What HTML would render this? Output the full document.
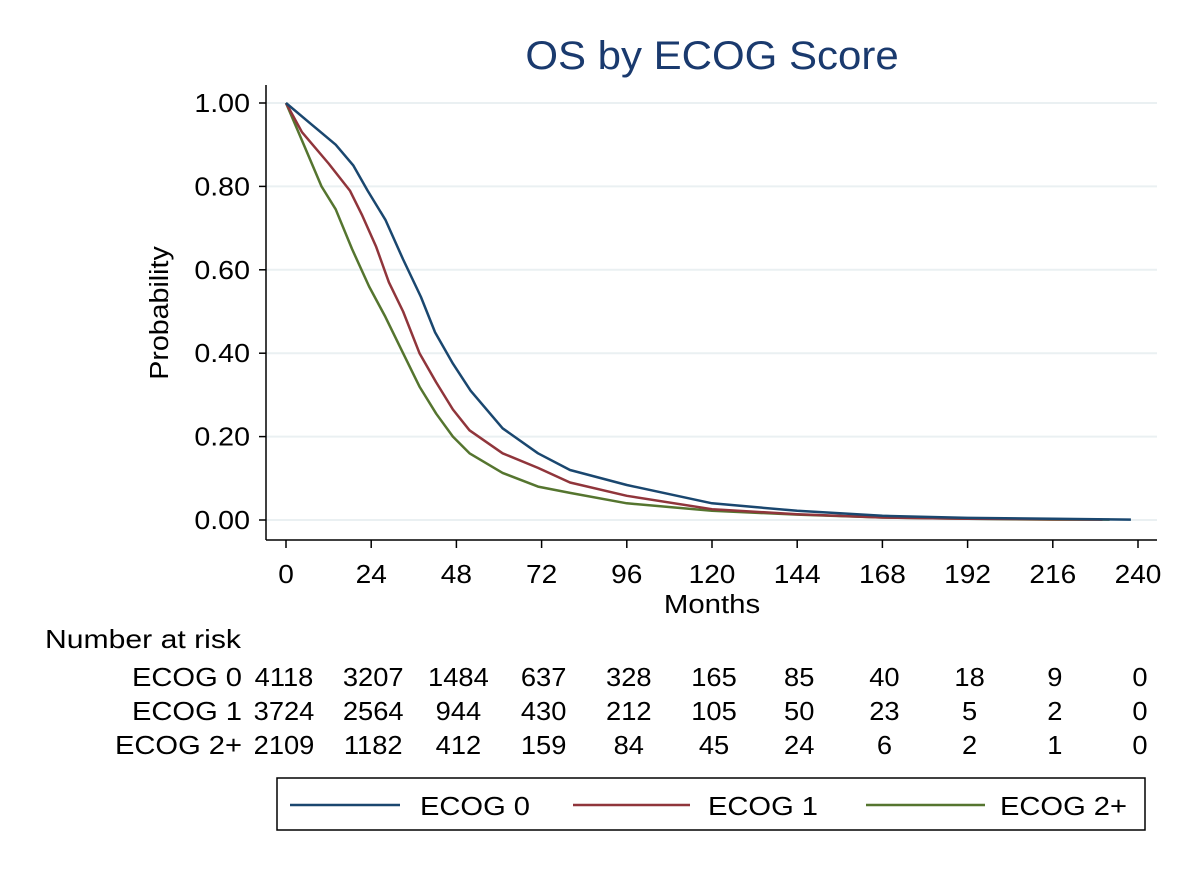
<!DOCTYPE html>
<html><head><meta charset="utf-8"><style>
html,body{margin:0;padding:0;background:#fff;}
svg text{font-family:"Liberation Sans",Arial,sans-serif;fill:#000;}
</style></head><body>
<svg id="chart" width="1200" height="873" viewBox="0 0 1200 873" xmlns="http://www.w3.org/2000/svg">
<rect width="1200" height="873" fill="#fff"/>
<text transform="translate(712,69) scale(1.05,1)" font-size="40" text-anchor="middle" style="fill:#1a3a6e">OS by ECOG Score</text>
<text transform="translate(168,313) rotate(-90) scale(1.1,1)" font-size="26" text-anchor="middle">Probability</text>
<text transform="translate(712,613) scale(1.13,1)" font-size="26" text-anchor="middle">Months</text>
<text transform="translate(45,648) scale(1.16,1)" font-size="26">Number at risk</text>
<g id="grid"></g><g id="axes"></g><g id="series"></g><g id="risk"></g>
<rect x="277" y="778" width="868" height="52" fill="none" stroke="#000" stroke-width="1.5"/>
<g>
<line x1="290" y1="805" x2="400" y2="805" stroke="#1a476f" stroke-width="2.5"/>
<text transform="translate(420,815) scale(1.12,1)" font-size="26">ECOG 0</text></g>
<g>
<line x1="573" y1="805" x2="690" y2="805" stroke="#90353b" stroke-width="2.5"/>
<text transform="translate(708,815) scale(1.12,1)" font-size="26">ECOG 1</text></g>
<g>
<line x1="866" y1="805" x2="985" y2="805" stroke="#55752f" stroke-width="2.5"/>
<text transform="translate(1000,815) scale(1.12,1)" font-size="26">ECOG 2+</text></g>
</svg>
<script>
const xTicks=[0,24,48,72,96,120,144,168,192,216,240];
const yTicks=[0,0.2,0.4,0.6,0.8,1.0];
const monthsA=[0,7,14,19,23,28,33,38,42,47,52,61,71,80,96,120,144,168,192,216,238];
const ecog0=[1,0.95,0.90,0.85,0.79,0.72,0.625,0.535,0.45,0.375,0.31,0.22,0.16,0.12,0.084,0.040,0.022,0.010,0.005,0.003,0.001];
const monthsB=[0,4.5,12,18,21.5,25.4,29,33,37.6,42.3,47,51.7,61,71,80,96,120,144,168,192,216,230];
const ecog1=[1,0.93,0.855,0.79,0.73,0.655,0.57,0.50,0.40,0.33,0.265,0.215,0.16,0.125,0.09,0.058,0.026,0.014,0.006,0.003,0.002,0.001];
const monthsC=[0,4.5,10,14,18.6,23.4,28,33,37.6,42.3,47,51.7,61,71,80,96,120,144,168,192,216,232];
const ecog2=[1,0.91,0.80,0.745,0.65,0.56,0.487,0.40,0.32,0.255,0.20,0.16,0.113,0.08,0.065,0.04,0.022,0.013,0.006,0.003,0.001,0.001];
const riskLabels=["ECOG 0","ECOG 1","ECOG 2+"];
const risk0=[4118,3207,1484,637,328,165,85,40,18,9,0];
const risk1=[3724,2564,944,430,212,105,50,23,5,2,0];
const risk2=[2109,1182,412,159,84,45,24,6,2,1,0];
const NS="http://www.w3.org/2000/svg";
const X=m=>286+m*(1138-286)/240;
const Y=p=>520-p*417;
function mk(tag,attrs,parent,txt){const e=document.createElementNS(NS,tag);for(const k in attrs)e.setAttribute(k,attrs[k]);if(txt!==undefined)e.textContent=txt;parent.appendChild(e);return e;}
function tr(x,y,s){return 'translate('+x+','+y+') scale('+s+',1)';}
const grid=document.getElementById('grid'),axes=document.getElementById('axes'),ser=document.getElementById('series'),risk=document.getElementById('risk');
yTicks.forEach(v=>{
  const g=mk('line',{x1:266,x2:1157,y1:Y(v),y2:Y(v),stroke:'#eaf0f2','stroke-width':2},grid);
  
  
  const t=mk('line',{x1:259,x2:266,y1:Y(v),y2:Y(v),stroke:'#000','stroke-width':1.5},axes);
  
  
  const l=mk('text',{transform:tr(250,Y(v)+9,1.1),'font-size':26,'text-anchor':'end'},axes,v.toFixed(2));
  
  
});
const ya=mk('line',{x1:266,x2:266,y1:85,y2:540,stroke:'#000','stroke-width':1.5},axes);


const xa=mk('line',{x1:266,x2:1157,y1:540,y2:540,stroke:'#000','stroke-width':1.5},axes);


xTicks.forEach(v=>{
  const t=mk('line',{x1:X(v),x2:X(v),y1:540,y2:548,stroke:'#000','stroke-width':1.5},axes);
  
  
  const l=mk('text',{transform:tr(X(v),583,1.08),'font-size':26,'text-anchor':'middle'},axes,String(v));
  
  
});
function drawSeries(ms,ps,color,name){
  let d='';
  for(let i=0;i<ms.length;i++){d+=(i?'L':'M')+X(ms[i]).toFixed(1)+','+Y(ps[i]).toFixed(1);}
  const p=mk('path',{d:d,fill:'none',stroke:color,'stroke-width':2.5,'stroke-linejoin':'round'},ser);
  
  
}
drawSeries(monthsC,ecog2,'#55752f','curve-ecog2');
drawSeries(monthsB,ecog1,'#90353b','curve-ecog1');
drawSeries(monthsA,ecog0,'#1a476f','curve-ecog0');
[risk0,risk1,risk2].forEach((row,r)=>{
  const y=686+r*34;
  const lab=mk('text',{transform:tr(242,y,1.12),'font-size':26,'text-anchor':'end'},risk,riskLabels[r]);
  
  
  row.forEach((v,i)=>{
    const t=mk('text',{transform:tr(X(xTicks[i])+(i===0?-2:2),y,1.05),'font-size':26,'text-anchor':'middle'},risk,String(v));
    
    
  });
});
</script>
</body></html>
